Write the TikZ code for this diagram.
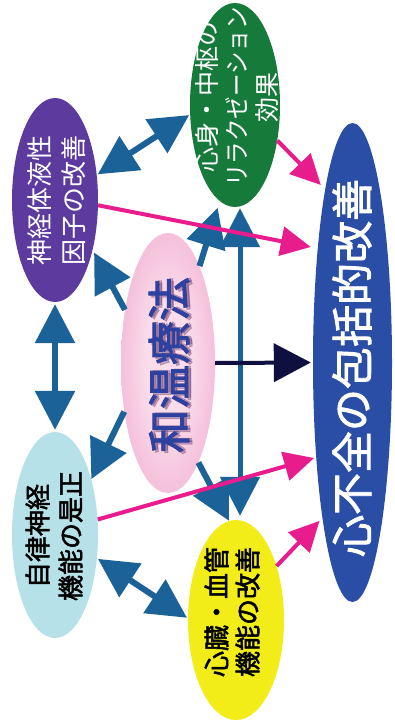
\documentclass[tikz,border=0pt]{standalone}
\usepackage{fontspec}
\newfontfamily\jp{Noto Sans CJK JP}[AutoFakeBold=2]
\usetikzlibrary{shapes.geometric,arrows.meta}
\definecolor{purp}{RGB}{92,58,158}
\definecolor{grn}{RGB}{22,122,58}
\definecolor{bigblue}{RGB}{42,78,165}
\definecolor{lblue}{RGB}{183,225,232}
\definecolor{yel}{RGB}{242,236,24}
\definecolor{ablue}{RGB}{26,98,152}
\definecolor{mag}{RGB}{232,28,140}
\definecolor{navy}{RGB}{16,16,64}
\definecolor{pinktext}{RGB}{45,65,160}
\definecolor{pinkin}{RGB}{250,220,234}
\definecolor{pinkout}{RGB}{234,136,188}
\definecolor{shadowc}{RGB}{110,60,110}
\pgfdeclareradialshading{pinkshade}{\pgfpoint{0bp}{0bp}}{color(0bp)=(pinkin); color(12bp)=(pinkin); color(50bp)=(pinkout)}
\tikzset{
  ell/.style={ellipse, inner sep=0pt, draw=none},
  txt/.style={rotate=90, align=center, inner sep=0pt},
  barrow/.style={draw=ablue, line width=6pt, >={Triangle[length=39pt,width=39pt]}},
  marrow/.style={draw=mag, line width=4pt, ->, >={Triangle[length=30pt,width=29pt]}},
  narrow/.style={draw=navy, line width=4pt, ->, >={Triangle[length=37pt,width=38pt]}},
}
\begin{document}
\begin{tikzpicture}[x=1pt,y=-1pt]
\useasboundingbox (0,0) rectangle (395,722);
\fill[white] (0,0) rectangle (395,722);
% ellipses
\node[ell, fill=purp, minimum width=86pt, minimum height=204pt] (nf) at (55,200) {};
\node[ell, fill=grn, minimum width=90pt, minimum height=204pt] (gr) at (235,105) {};
\node[ell, fill=bigblue, minimum width=79pt, minimum height=479pt] (bl) at (352.5,362.5) {};
\node[ell, shading=pinkshade, minimum width=94pt, minimum height=260pt] (pk) at (168,363) {};
\node[ell, fill=lblue, minimum width=86pt, minimum height=206pt] (lb) at (55,535) {};
\node[ell, fill=yel, minimum width=96pt, minimum height=200pt] (ye) at (236,620) {};
% texts
\node[txt, text=white, font={\jp\fontsize{26}{34}\selectfont}] (nft) at (57,200) {神経体液性\\因子の改善};
\node[txt, text=white, font={\jp\fontsize{25}{30}\selectfont}] (grt) at (237,97) {心身・中枢の\\\scalebox{0.9}[1]{リラクゼーション}\\効果};
\node[txt, text=white, font={\jp\bfseries\fontsize{42}{50}\selectfont}] (blt) at (352,368) {心不全の包括的改善};
\node[txt, text=black, font={\jp\bfseries\fontsize{26}{33}\selectfont}] (lbt) at (54,536) {自律神経\\機能の是正};
\node[txt, text=black, font={\jp\bfseries\fontsize{26}{31}\selectfont}] (yet) at (232,612) {心臓・血管\\機能の改善};
\node[txt, text=shadowc, opacity=0.35, font={\jp\bfseries\fontsize{44}{50}\selectfont}] (pks1) at (172,367) {和温療法};
\node[txt, text=shadowc, opacity=0.35, font={\jp\bfseries\fontsize{44}{50}\selectfont}] (pks2) at (171.5,364.5) {和温療法};
\node[txt, text=pinktext, font={\jp\bfseries\fontsize{44}{50}\selectfont}] (pkt) at (169,365) {和温療法};
% blue arrows
\draw[barrow, <->, shorten <=1pt, shorten >=1pt] (nf.31) -- (gr.192);
\draw[barrow, <->, shorten <=2pt, shorten >=2pt] (nf.south) -- (lb.north);
\draw[barrow, <->, shorten <=1pt, shorten >=1pt] (lb.331) -- (ye.178);
\draw[barrow, ->, shorten >=3pt] (pk.129) -- (nf.307);
\draw[barrow, ->] (pk.228) -- (lb.57);
\draw[barrow, ->, shorten >=7pt] (pk.72) -- (gr.261);
\draw[barrow, ->] (pk.287) -- (ye.94);
\draw[barrow, line width=5pt, <->, shorten <=1pt, shorten >=4pt] ([xshift=5pt]gr.south) -- ([xshift=4pt]ye.north);
% navy arrow
\draw[narrow, shorten >=2pt] (pk.east) -- (bl.west);
% magenta arrows
\draw[marrow, shorten >=7pt] (nf.353) -- (bl.107);
\draw[marrow, shorten >=6pt] (gr.320) -- (bl.99);
\draw[marrow, shorten >=2pt] (lb.20) -- (bl.249);
\draw[marrow, shorten >=4pt] (ye.53) -- (bl.259);
\end{tikzpicture}
\end{document}
